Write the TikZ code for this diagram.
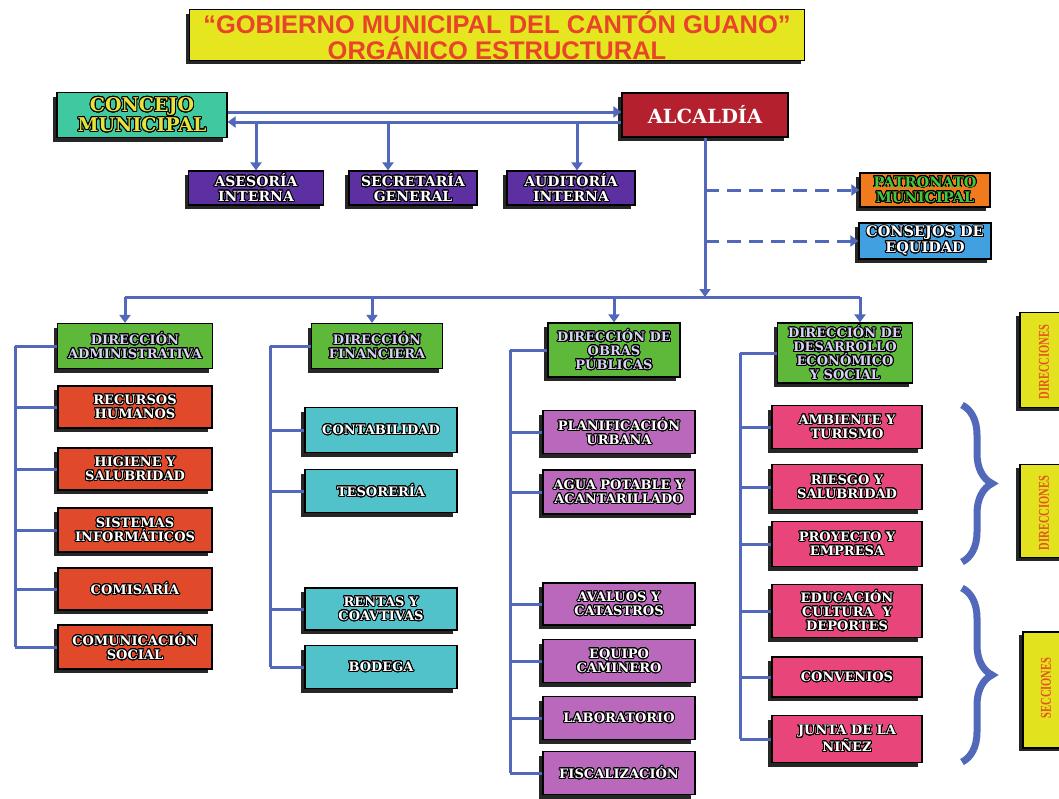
\documentclass[tikz,border=0pt]{standalone}
\usepackage{fontspec}
\setmainfont{DejaVu Serif}
\newfontfamily\titlefont{Liberation Sans}
\newfontfamily\narrowfont[FakeStretch=0.7]{Liberation Serif}
\usepackage[copies]{contour}
\contourlength{0.9pt}
\contournumber{24}
\usetikzlibrary{arrows.meta,shadows,decorations.pathreplacing}

\definecolor{linkblue}{RGB}{82,104,186}
\definecolor{titleyellow}{RGB}{230,230,32}
\definecolor{titlered}{RGB}{232,68,42}
\definecolor{concgreen}{RGB}{64,200,160}
\definecolor{concyellow}{RGB}{232,226,60}
\definecolor{alcred}{RGB}{180,32,46}
\definecolor{topviolet}{RGB}{92,48,160}
\definecolor{patorange}{RGB}{240,122,30}
\definecolor{patgreen}{RGB}{64,200,64}
\definecolor{equblue}{RGB}{64,160,224}
\definecolor{dirgreen}{RGB}{94,184,58}
\definecolor{dirlav}{RGB}{218,210,244}
\definecolor{admred}{RGB}{224,74,42}
\definecolor{fincyan}{RGB}{82,194,202}
\definecolor{obrpurple}{RGB}{186,104,188}
\definecolor{despink}{RGB}{232,70,122}
\definecolor{sideyellow}{RGB}{226,226,30}
\definecolor{sidered}{RGB}{230,82,30}

\newcommand{\outl}[1]{\contour{black}{#1}}

\tikzset{
  box/.style={draw=black, line width=1.2pt, align=center, inner sep=1pt, text=white,
    drop shadow={shadow xshift=-4pt, shadow yshift=-4pt, opacity=.85, fill=black},
    font=\bfseries\fontsize{13}{14}\selectfont},
  titlebox/.style={box, fill=titleyellow, text=titlered, minimum width=615pt, minimum height=50pt,
    font=\titlefont\bfseries\fontsize{25.5}{26}\selectfont},
  concbox/.style={box, fill=concgreen, text=concyellow, minimum width=170pt, minimum height=45pt,
    font=\bfseries\fontsize{19}{20}\selectfont},
  alcbox/.style={box, fill=alcred, minimum width=166pt, minimum height=44pt,
    font=\bfseries\fontsize{19.5}{20}\selectfont},
  topbox/.style={box, fill=topviolet, minimum height=34pt, font=\bfseries\fontsize{14}{15}\selectfont},
  patbox/.style={box, fill=patorange, text=patgreen, minimum width=130pt, minimum height=34pt,
    font=\bfseries\fontsize{14.5}{15.5}\selectfont},
  equbox/.style={box, fill=equblue, minimum width=132pt, minimum height=36pt,
    font=\bfseries\fontsize{14.5}{15.5}\selectfont},
  dirbox/.style={box, fill=dirgreen, text=dirlav, font=\bfseries\fontsize{13}{13.8}\selectfont},
  admbox/.style={box, fill=admred, minimum width=154pt},
  finbox/.style={box, fill=fincyan, minimum width=152pt},
  obrbox/.style={box, fill=obrpurple, minimum width=152pt},
  desbox/.style={box, fill=despink, minimum width=150pt},
  sidebox/.style={draw=black, line width=1.2pt, fill=sideyellow, minimum width=60pt,
    drop shadow={shadow xshift=-4pt, shadow yshift=-3pt, opacity=.85, fill=black}},
  sidetext/.style={rotate=90, text=sidered, font=\narrowfont\bfseries\fontsize{15}{15}\selectfont},
  link/.style={draw=linkblue, line width=3pt},
  dashlink/.style={dash pattern=on 14pt off 8pt},
  headed/.style={-{Triangle[width=11pt,length=8pt]}},
  bracket/.style={draw=linkblue, line width=7pt, decorate, decoration={brace, amplitude=30pt}}
}

\begin{document}
\begin{tikzpicture}[x=1pt,y=-1pt]
  \useasboundingbox (0,0) rectangle (1059,798);
  \clip (0,0) rectangle (1059,798);

  % top of the chart
  \node[titlebox] (title) at (497,35) {“GOBIERNO MUNICIPAL DEL CANTÓN GUANO”\\ORGÁNICO ESTRUCTURAL};
  \node[concbox] (conc) at (142,115) {\outl{CONCEJO}\\\outl{MUNICIPAL}};
  \node[alcbox] (alc) at (705,115) {ALCALDÍA};
  \node[topbox, minimum width=135pt] (ases) at (256,188) {\outl{ASESORÍA}\\\outl{INTERNA}};
  \node[topbox, minimum width=128pt] (secr) at (413,188) {\outl{SECRETARÍA}\\\outl{GENERAL}};
  \node[topbox, minimum width=128pt] (audi) at (571,188) {\outl{AUDITORÍA}\\\outl{INTERNA}};
  \node[patbox] (patr) at (925,190) {\outl{PATRONATO}\\\outl{MUNICIPAL}};
  \node[equbox] (cequ) at (925,241) {\outl{CONSEJOS DE}\\\outl{EQUIDAD}};

  % direcciones
  \node[dirbox, minimum width=155pt, minimum height=45pt] (dadm) at (135,346) {\outl{DIRECCIÓN}\\\outl{ADMINISTRATIVA}};
  \node[dirbox, minimum width=131pt, minimum height=45pt] (dfin) at (377,346) {\outl{DIRECCIÓN}\\\outl{FINANCIERA}};
  \node[dirbox, minimum width=132pt, minimum height=54pt] (dobr) at (614,350) {\outl{DIRECCIÓN DE}\\\outl{OBRAS}\\\outl{PÚBLICAS}};
  \node[dirbox, minimum width=135pt, minimum height=60pt] (ddes) at (845,353) {\outl{DIRECCIÓN DE}\\\outl{DESARROLLO}\\\outl{ECONÓMICO}\\\outl{Y SOCIAL}};

  % administrativa
  \node[admbox, minimum height=42pt] (rrhh) at (135,407) {\outl{RECURSOS}\\\outl{HUMANOS}};
  \node[admbox, minimum height=42pt] (higi) at (135,469) {\outl{HIGIENE Y}\\\outl{SALUBRIDAD}};
  \node[admbox, minimum height=44pt] (sist) at (135,530) {\outl{SISTEMAS}\\\outl{INFORMÁTICOS}};
  \node[admbox, minimum height=42pt] (comi) at (135,589) {\outl{COMISARÍA}};
  \node[admbox, minimum height=44pt] (comu) at (135,647) {\outl{COMUNICACIÓN}\\\outl{SOCIAL}};

  % financiera
  \node[finbox, minimum height=45pt] (cont) at (381,430) {\outl{CONTABILIDAD}};
  \node[finbox, minimum height=43pt] (teso) at (381,491) {\outl{TESORERÍA}};
  \node[finbox, minimum height=42pt] (rent) at (381,609) {\outl{RENTAS Y}\\\outl{COAVTIVAS}};
  \node[finbox, minimum height=43pt] (bode) at (381,667) {\outl{BODEGA}};

  % obras publicas
  \node[obrbox, minimum height=43pt] (plan) at (619,432) {\outl{PLANIFICACIÓN}\\\outl{URBANA}};
  \node[obrbox, minimum height=44pt] (agua) at (619,492) {\outl{AGUA POTABLE Y}\\\outl{ACANTARILLADO}};
  \node[obrbox, minimum height=42pt] (aval) at (619,604) {\outl{AVALUOS Y}\\\outl{CATASTROS}};
  \node[obrbox, minimum height=43pt] (equi) at (619,661) {\outl{EQUIPO}\\\outl{CAMINERO}};
  \node[obrbox, minimum height=43pt] (labo) at (619,718) {\outl{LABORATORIO}};
  \node[obrbox, minimum height=43pt] (fisc) at (619,773) {\outl{FISCALIZACIÓN}};

  % desarrollo
  \node[desbox, minimum height=43pt] (ambi) at (847,427) {\outl{AMBIENTE Y}\\\outl{TURISMO}};
  \node[desbox, minimum height=45pt] (ries) at (847,487) {\outl{RIESGO Y}\\\outl{SALUBRIDAD}};
  \node[desbox, minimum height=45pt] (proy) at (847,544) {\outl{PROYECTO Y}\\\outl{EMPRESA}};
  \node[desbox, minimum height=53pt] (educ) at (847,611) {\outl{EDUCACIÓN}\\\outl{CULTURA\ \ Y}\\\outl{DEPORTES}};
  \node[desbox, minimum height=40pt] (conv) at (847,677) {\outl{CONVENIOS}};
  \node[desbox, minimum height=47pt] (junt) at (847,739) {\outl{JUNTA DE LA}\\\outl{NIÑEZ}};

  % side labels
  \node[sidebox, minimum height=95pt] (side1) at (1050,360) {};
  \node[sidetext] (side1t) at (1044,362) {DIRECCIONES};
  \node[sidebox, minimum height=93pt] (side2) at (1050,511) {};
  \node[sidetext] (side2t) at (1044,513) {DIRECCIONES};
  \node[sidebox, minimum height=116pt] (side3) at (1053,690) {};
  \node[sidetext] (side3t) at (1046,688) {SECCIONES};

  % connectors
  \coordinate (lo) at (0,122);
  \coordinate (bus) at (0,297);
  \coordinate (secin) at ([xshift=-25pt]secr.north);
  \coordinate (audin) at ([xshift=6pt]audi.north);
  \coordinate (admin) at ([xshift=-10pt]dadm.north);
  \coordinate (finin) at ([xshift=-5pt]dfin.north);
  \coordinate (desin) at ([xshift=15pt]ddes.north);
  \coordinate (c1) at (15,0);
  \coordinate (c2) at (270,0);
  \coordinate (c3) at (510,0);
  \coordinate (c4) at (740,0);
  \begin{scope}[link]
    \draw[headed] ([yshift=3pt]conc.east) -- ([yshift=3pt]alc.west);
    \draw[headed] ([yshift=-7pt]alc.west) -- ([yshift=-7pt]conc.east);
    \draw[headed] (ases.north |- lo) -- (ases.north);
    \draw[headed] (secin |- lo) -- (secin);
    \draw[headed] (audin |- lo) -- (audin);
    \draw[headed] (alc.south) -- (alc.south |- bus);
    \draw[dashlink, headed] (alc.south |- patr.west) -- (patr.west);
    \draw[dashlink, headed] (alc.south |- cequ.west) -- (cequ.west);
    \draw (admin |- bus) -- (desin |- bus);
    \draw[headed] (admin |- bus) -- (admin);
    \draw[headed] (finin |- bus) -- (finin);
    \draw[headed] (dobr.north |- bus) -- (dobr.north);
    \draw[headed] (desin |- bus) -- (desin);
    \draw (dadm.west -| c1) -- (comu.west -| c1);
    \foreach \n in {dadm,rrhh,higi,sist,comi,comu}
      \draw (\n.west -| c1) -- (\n.west);
    \draw (dfin.west -| c2) -- (bode.west -| c2);
    \foreach \n in {dfin,cont,teso,rent,bode}
      \draw (\n.west -| c2) -- (\n.west);
    \draw (dobr.west -| c3) -- (fisc.west -| c3);
    \foreach \n in {dobr,plan,agua,aval,equi,labo,fisc}
      \draw (\n.west -| c3) -- (\n.west);
    \draw (ddes.west -| c4) -- (junt.west -| c4);
    \foreach \n in {ddes,ambi,ries,proy,educ,conv,junt}
      \draw (\n.west -| c4) -- (\n.west);
  \end{scope}

  % braces
  \draw[bracket] (962,405) -- (962,562);
  \draw[bracket] (962,588) -- (962,762);
\end{tikzpicture}
\end{document}
